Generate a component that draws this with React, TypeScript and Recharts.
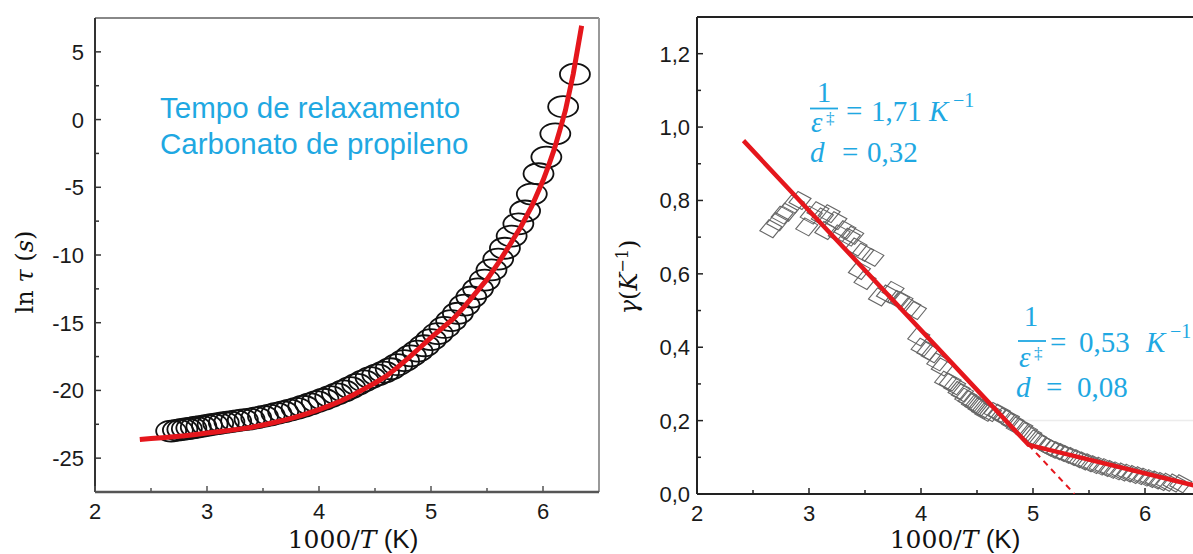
import React from 'react';
import { ScatterChart, Scatter, XAxis, YAxis, ReferenceLine } from 'recharts';

// left panel: ln tau vs 1000/T, measured points
const tauX = [2.68, 2.74, 2.78, 2.82, 2.86, 2.9, 2.95, 3.0, 3.05, 3.1, 3.15, 3.2, 3.26, 3.32, 3.38, 3.44, 3.5, 3.56, 3.62, 3.68, 3.74, 3.8, 3.86, 3.92, 3.98, 4.04, 4.1, 4.16, 4.22, 4.28, 4.34, 4.4, 4.46, 4.52, 4.58, 4.64, 4.7, 4.76, 4.82, 4.88, 4.94, 5.0, 5.06, 5.12, 5.18, 5.24, 5.3, 5.36, 5.42, 5.48, 5.54, 5.6, 5.66, 5.72, 5.78, 5.84, 5.9, 5.96, 6.03, 6.11, 6.18, 6.285];
const tauY = [-23.0, -22.93, -22.88, -22.83, -22.78, -22.72, -22.66, -22.58, -22.5, -22.45, -22.38, -22.32, -22.25, -22.18, -22.12, -22.02, -21.92, -21.82, -21.7, -21.58, -21.45, -21.32, -21.17, -21.0, -20.83, -20.65, -20.46, -20.25, -20.04, -19.8, -19.55, -19.3, -19.05, -18.85, -18.65, -18.4, -18.1, -17.8, -17.45, -17.1, -16.7, -16.25, -15.8, -15.35, -14.85, -14.3, -13.7, -13.1, -12.5, -11.85, -11.1, -10.3, -9.5, -8.6, -7.7, -6.75, -5.5, -4.0, -2.77, -1.05, 0.95, 3.35];

// left panel: VFT fit (red)
const vftX = [2.4, 2.5, 2.6, 2.7, 2.8, 2.9, 3.0, 3.1, 3.2, 3.3, 3.4, 3.5, 3.6, 3.7, 3.8, 3.9, 4.0, 4.1, 4.2, 4.3, 4.4, 4.5, 4.6, 4.7, 4.8, 4.9, 5.0, 5.1, 5.2, 5.3, 5.4, 5.5, 5.6, 5.7, 5.8, 5.9, 6.0, 6.05, 6.1, 6.15, 6.2, 6.27, 6.345];
const vftY = [-23.62, -23.55, -23.49, -23.42, -23.35, -23.25, -23.15, -23.05, -22.95, -22.84, -22.72, -22.55, -22.37, -22.17, -21.95, -21.7, -21.42, -21.1, -20.76, -20.35, -19.9, -19.45, -18.95, -18.3, -17.6, -16.85, -16.1, -15.4, -14.7, -13.8, -12.8, -11.8, -10.6, -9.3, -7.95, -6.4, -4.5, -3.4, -2.2, -0.8, 0.67, 3.37, 6.93];

// right panel: gamma vs 1000/T, measured points
const gamX = [2.66, 2.72, 2.76, 2.8, 2.86, 2.92, 2.98, 3.02, 3.08, 3.12, 3.15, 3.18, 3.24, 3.27, 3.32, 3.36, 3.39, 3.42, 3.45, 3.48, 3.5, 3.57, 3.63, 3.7, 3.75, 3.8, 3.83, 3.9, 3.95, 3.98, 4.01, 4.06, 4.1, 4.15, 4.19, 4.22, 4.26, 4.3, 4.34, 4.37, 4.4, 4.43, 4.46, 4.49, 4.52, 4.55, 4.58, 4.62, 4.66, 4.7, 4.74, 4.78, 4.82, 4.86, 4.9, 4.94, 4.98, 5.02, 5.06, 5.1, 5.14, 5.18, 5.22, 5.26, 5.3, 5.35, 5.4, 5.45, 5.5, 5.55, 5.6, 5.65, 5.7, 5.75, 5.8, 5.85, 5.9, 5.95, 6.0, 6.05, 6.1, 6.15, 6.2, 6.26, 6.32];
const gamY = [0.723, 0.742, 0.76, 0.768, 0.79, 0.8, 0.728, 0.76, 0.772, 0.755, 0.718, 0.764, 0.745, 0.709, 0.72, 0.7, 0.705, 0.673, 0.609, 0.659, 0.582, 0.645, 0.537, 0.545, 0.555, 0.53, 0.527, 0.51, 0.5, 0.428, 0.4, 0.39, 0.382, 0.36, 0.346, 0.31, 0.305, 0.295, 0.282, 0.275, 0.264, 0.258, 0.25, 0.244, 0.237, 0.23, 0.223, 0.222, 0.225, 0.22, 0.21, 0.205, 0.195, 0.185, 0.18, 0.17, 0.16, 0.15, 0.142, 0.135, 0.128, 0.122, 0.118, 0.113, 0.108, 0.102, 0.096, 0.09, 0.085, 0.08, 0.076, 0.072, 0.067, 0.063, 0.06, 0.057, 0.053, 0.05, 0.046, 0.042, 0.038, 0.034, 0.032, 0.03, 0.028];

// right panel: two linear fits + dashed extension
const fitX = [2.415, 4.96, 6.5];
const fitY = [0.963, 0.134, 0.019];
const dashX = [4.96, 5.37];
const dashY = [0.134, 0.0];

const xTicks = [2, 2.5, 3, 3.5, 4, 4.5, 5, 5.5, 6];
const lnTicks = [5, 2.5, 0, -2.5, -5, -7.5, -10, -12.5, -15, -17.5, -20, -22.5, -25];
const gamTicks = [0, 0.1, 0.2, 0.3, 0.4, 0.5, 0.6, 0.7, 0.8, 0.9, 1.0, 1.1, 1.2];

const zip = (xs: number[], ys: number[]) => xs.map((x, i) => ({ x, y: ys[i] }));

const RED = '#e5161c';
const BLUE = '#1fa8e2';
const SANS = '"Liberation Sans", Arial, sans-serif';
const SERIF = '"Liberation Serif", "Times New Roman", serif';
const MATH = '"DejaVu Serif", serif';

const Ellipse = (p: any) => (
  <ellipse cx={p.cx} cy={p.cy} rx={15} ry={10.5} fill="none" stroke="#111" strokeWidth={1.8} />
);

const Diamond = (p: any) => {
  const { cx, cy } = p;
  const pts = [[-11, 2], [-2, -9], [11, -2], [2, 9]].map(([dx, dy]) => `${cx + dx},${cy + dy}`).join(' ');
  return <polygon points={pts} fill="none" stroke="#666" strokeWidth={1.1} />;
};

const NoDot = () => <g />;

const YTick = ({ x, y, payload, gap, major, fmt, stroke }: any) => {
  const v = payload.value;
  const ax = x + gap;
  const isMaj = major(v);
  return (
    <g>
      <line x1={ax} x2={ax + (isMaj ? 6 : 4)} y1={y} y2={y} stroke={stroke} strokeWidth={1.5} />
      {isMaj && (
        <text x={x} y={y + 8} textAnchor="end" fontFamily={SANS} fontSize={22} fill="#1a1a1a">
          {fmt(v)}
        </text>
      )}
    </g>
  );
};

const XTick = ({ x, y, payload, gap, stroke }: any) => {
  const v = payload.value;
  const ay = y - gap;
  const isMaj = Number.isInteger(v);
  return (
    <g>
      <line x1={x} x2={x} y1={ay} y2={ay - (isMaj ? 6 : 4)} stroke={stroke} strokeWidth={1.5} />
      {isMaj && (
        <text x={x} y={y + 15} textAnchor="middle" fontFamily={SANS} fontSize={22} fill="#1a1a1a">
          {v}
        </text>
      )}
    </g>
  );
};

const LeftChart = () => (
  <ScatterChart width={620} height={554} margin={{ top: 18, right: 21, bottom: 0, left: 0 }}>
    <XAxis
      type="number"
      dataKey="x"
      domain={[2, 6.5]}
      ticks={xTicks}
      height={62}
      tickSize={0}
      tickMargin={12}
      tickLine={false}
      axisLine={{ stroke: '#555', strokeWidth: 2.5 }}
      tick={(p: any) => <XTick {...p} gap={12} stroke="#555" />}
      allowDataOverflow
    />
    <YAxis
      type="number"
      dataKey="y"
      domain={[-27.5, 7.5]}
      ticks={lnTicks}
      width={95}
      tickSize={0}
      tickMargin={11}
      tickLine={false}
      axisLine={{ stroke: '#333', strokeWidth: 2 }}
      tick={(p: any) => (
        <YTick {...p} gap={11} stroke="#333" major={(v: number) => v % 5 === 0} fmt={(v: number) => String(v)} />
      )}
      allowDataOverflow
    />
    <ReferenceLine y={7.5} stroke="#888" strokeWidth={2} />
    <ReferenceLine x={6.5} stroke="#999" strokeWidth={2} />
    <Scatter data={zip(tauX, tauY)} shape={Ellipse} isAnimationActive={false} />
    <Scatter
      data={zip(vftX, vftY)}
      shape={NoDot}
      line={{ stroke: RED, strokeWidth: 5 }}
      isAnimationActive={false}
    />
  </ScatterChart>
);

const RightChart = () => (
  <ScatterChart width={620} height={554} margin={{ top: 17, right: 19, bottom: 0, left: 0 }}>
    <XAxis
      type="number"
      dataKey="x"
      domain={[2, 6.5]}
      ticks={xTicks}
      height={60}
      tickSize={0}
      tickMargin={12}
      tickLine={false}
      axisLine={{ stroke: '#222', strokeWidth: 2 }}
      tick={(p: any) => <XTick {...p} gap={12} stroke="#222" />}
      allowDataOverflow
    />
    <YAxis
      type="number"
      dataKey="y"
      domain={[0, 1.3]}
      ticks={gamTicks}
      width={97}
      tickSize={0}
      tickMargin={7}
      tickLine={false}
      axisLine={{ stroke: '#222', strokeWidth: 2 }}
      tick={(p: any) => (
        <YTick
          {...p}
          gap={7}
          stroke="#222"
          major={(v: number) => Math.round(v * 10) % 2 === 0}
          fmt={(v: number) => v.toFixed(1).replace('.', ',')}
        />
      )}
      allowDataOverflow
    />
    <ReferenceLine y={1.3} stroke="#222" strokeWidth={2} />
    <ReferenceLine segment={[{ x: 4.85, y: 0.2 }, { x: 6.5, y: 0.2 }]} stroke="#ececec" strokeWidth={1.5} />
    <Scatter data={zip(gamX, gamY)} shape={Diamond} isAnimationActive={false} />
    <Scatter
      data={zip(dashX, dashY)}
      shape={NoDot}
      line={{ stroke: RED, strokeWidth: 2, strokeDasharray: '6 5' }}
      isAnimationActive={false}
    />
    <Scatter
      data={zip(fitX, fitY)}
      shape={NoDot}
      line={{ stroke: RED, strokeWidth: 4.5 }}
      isAnimationActive={false}
    />
  </ScatterChart>
);

const Overlay = () => (
  <svg width={1193} height={554} style={{ position: 'absolute', left: 0, top: 0, pointerEvents: 'none' }}>
    <g fill={BLUE} fontFamily={SANS} fontSize={29.5}>
      <text x={160} y={118}>Tempo de relaxamento</text>
      <text x={160} y={154}>Carbonato de propileno</text>
    </g>

    {/* axis titles */}
    <g fill="#111">
      <text x={353} y={548} textAnchor="middle" fontSize={25}>
        <tspan fontFamily={MATH}>1000/</tspan>
        <tspan fontFamily={MATH} fontStyle="italic">T</tspan>
        <tspan fontFamily={SANS} fontSize={26}> (K)</tspan>
      </text>
      <text x={955} y={548} textAnchor="middle" fontSize={25}>
        <tspan fontFamily={MATH}>1000/</tspan>
        <tspan fontFamily={MATH} fontStyle="italic">T</tspan>
        <tspan fontFamily={SANS} fontSize={26}> (K)</tspan>
      </text>
      <text transform="translate(33,272) rotate(-90)" textAnchor="middle" fontFamily={MATH} fontSize={24}>
        ln <tspan fontStyle="italic">τ</tspan> (<tspan fontStyle="italic">s</tspan>)
      </text>
      <text transform="translate(637,277) rotate(-90)" textAnchor="middle" fontFamily={MATH} fontSize={24}>
        <tspan fontStyle="italic">γ</tspan>(<tspan fontStyle="italic">K</tspan>
        <tspan dy={-9} fontSize={16}>−1</tspan>
        <tspan dy={9}>)</tspan>
      </text>
    </g>

    {/* fit annotations */}
    <g fill={BLUE} fontFamily={SERIF} fontSize={29}>
      <text x={824} y={102} textAnchor="middle">1</text>
      <line x1={810} x2={838} y1={108.5} y2={108.5} stroke={BLUE} strokeWidth={1.8} />
      <text x={811} y={132} fontStyle="italic">ε</text>
      <text x={826} y={124} fontSize={17}>‡</text>
      <text x={846} y={121}>=</text>
      <text x={871} y={121}>1,71</text>
      <text x={929} y={121} fontStyle="italic">K</text>
      <text x={953} y={107} fontSize={20}>−1</text>
      <text x={810} y={162} fontStyle="italic">d</text>
      <text x={842} y={162}>=</text>
      <text x={867} y={162}>0,32</text>

      <text x={1031} y={326} textAnchor="middle">1</text>
      <line x1={1018} x2={1046} y1={341} y2={341} stroke={BLUE} strokeWidth={1.8} />
      <text x={1019} y={367} fontStyle="italic">ε</text>
      <text x={1034} y={359} fontSize={17}>‡</text>
      <text x={1050} y={352}>=</text>
      <text x={1079} y={352}>0,53</text>
      <text x={1146} y={352} fontStyle="italic">K</text>
      <text x={1170} y={338} fontSize={20}>−1</text>
      <text x={1016} y={397} fontStyle="italic">d</text>
      <text x={1046} y={397}>=</text>
      <text x={1077} y={397}>0,08</text>
    </g>
  </svg>
);

export default function App() {
  return (
    <div style={{ position: 'fixed', left: 0, top: 0, width: 1193, height: 554, overflow: 'hidden', background: '#fff' }}>
      <div style={{ position: 'absolute', left: 0, top: 0 }}>
        <LeftChart />
      </div>
      <div style={{ position: 'absolute', left: 600, top: 0 }}>
        <RightChart />
      </div>
      <Overlay />
    </div>
  );
}
